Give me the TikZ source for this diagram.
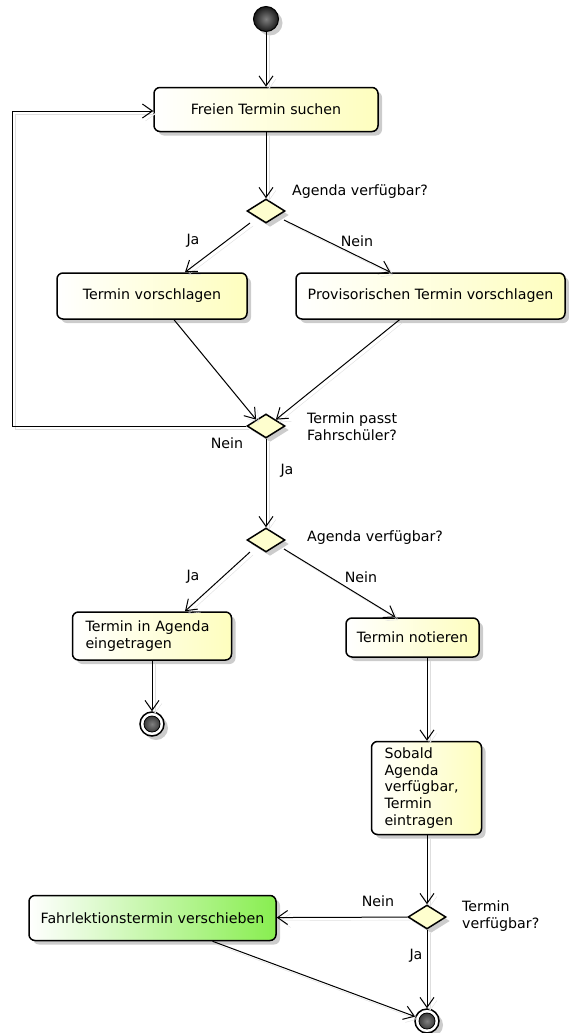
\documentclass[tikz,border=0pt]{standalone}
\usepackage{fontspec}
\setmainfont{DejaVu Sans}
\usetikzlibrary{shapes.geometric,shadows,arrows.meta}
\definecolor{actR}{RGB}{254,254,190}
\definecolor{diaF}{RGB}{254,254,206}
\definecolor{grnR}{RGB}{136,238,80}
\begin{document}
\begin{tikzpicture}[x=1pt,y=-1pt,
  font=\fontsize{14.2}{16.8}\selectfont,
  shd/.style={drop shadow={shadow xshift=4pt,shadow yshift=-4pt,fill=black!20,opacity=1}},
  action/.style={draw, line width=1.5pt, rounded corners=6pt, shd,
    left color=white, right color=actR, inner sep=0pt},
  actionleft/.style={action, align=left, inner xsep=13pt},
  decision/.style={diamond, draw, line width=1.5pt, fill=diaF, shd,
    minimum width=38pt, minimum height=24pt, inner sep=0pt},
  startnode/.style={circle, draw, line width=1pt, minimum size=25pt, inner sep=0pt,
    shd, inner color=black!50, outer color=black!90},
  endnode/.style={circle, draw, line width=1.5pt, minimum size=24pt, inner sep=0pt,
    fill=white, shd,
    path picture={\shade[inner color=black!50, outer color=black!90]
      (path picture bounding box.center) circle (8pt);
      \draw[line width=0.8pt] (path picture bounding box.center) circle (8pt);}},
  flow/.style={draw, line width=1pt,
    -{Straight Barb[length=10pt,width=14pt,line width=1pt]},
    preaction={draw=black!13, transform canvas={xshift=3pt,yshift=-3pt}}},
  lbl/.style={inner sep=0pt}
]
\useasboundingbox (0,0) rectangle (569,1033);

% nodes
\node[startnode] (start) at (266,19) {};
\node[action, minimum width=224pt, minimum height=44pt] (suchen) at (266,109.5) {Freien Termin suchen};
\node[decision] (d1) at (266,211) {};
\node[action, minimum width=190pt, minimum height=46pt] (vorschl) at (152,296) {Termin vorschlagen};
\node[action, minimum width=269pt, minimum height=46pt] (prov) at (430.5,296) {Provisorischen Termin vorschlagen};
\node[decision] (d2) at (266,426) {};
\node[decision] (d3) at (266,540) {};
\node[actionleft, text width=133pt, minimum height=48pt] (eingetr) at (152,636) {Termin in Agenda\\eingetragen};
\node[endnode] (end1) at (152,724) {};
\node[action, minimum width=133pt, minimum height=39pt] (notieren) at (412.5,637.5) {Termin notieren};
\node[actionleft, text width=84pt, minimum height=93pt] (sobald) at (426.5,788) {Sobald\\Agenda\\verfügbar,\\Termin\\eintragen};
\node[decision] (d4) at (427,917) {};
\node[action, minimum width=247pt, minimum height=45pt, right color=grnR] (verschieben) at (152.5,918) {Fahrlektionstermin verschieben};
\node[endnode] (end2) at (427,1021) {};

% labels
\node[lbl, anchor=west] (q1) at (292,192) {Agenda verfügbar?};
\node[lbl] (ja1) at (193,241) {Ja};
\node[lbl] (nein1) at (357,241) {Nein};
\node[lbl, anchor=west, align=left] (q2) at (307,427) {Termin passt\\Fahrschüler?};
\node[lbl] (nein2) at (227,443) {Nein};
\node[lbl] (ja2) at (287,471) {Ja};
\node[lbl, anchor=west] (q3) at (307,538) {Agenda verfügbar?};
\node[lbl] (ja3) at (193,577) {Ja};
\node[lbl] (nein3) at (361,577) {Nein};
\node[lbl] (nein4) at (378,901) {Nein};
\node[lbl, anchor=west, align=left] (q4) at (462,916) {Termin\\verfügbar?};
\node[lbl] (ja4) at (416,956) {Ja};

% loop corners
\coordinate (lpA) at (12,426);
\coordinate (lpB) at (12,111);

% connectors
\draw[flow] (start) -- (suchen);
\draw[flow] (suchen) -- (d1);
\draw[flow] ([shift={(-16pt,-12pt)}]d1.center) -- ([xshift=33pt]vorschl.north);
\draw[flow] ([shift={(18pt,-9pt)}]d1.center) -- ([xshift=-40pt]prov.north);
\draw[flow] ([xshift=22pt]vorschl.south) -- (d2.north west);
\draw[flow] ([xshift=-31pt]prov.south) -- (d2.north east);
\draw[flow] (d2.west) -- (lpA) -- (lpB) -- (suchen.west |- lpB);
\draw[flow] (d2) -- (d3);
\draw[flow] ([shift={(-16pt,-12pt)}]d3.center) -- ([xshift=33pt]eingetr.north);
\draw[flow] ([shift={(18pt,-9pt)}]d3.center) -- ([xshift=-17pt]notieren.north);
\draw[flow] (eingetr) -- (end1);
\draw[flow] (notieren.south -| d4) -- (sobald.north -| d4);
\draw[flow] (sobald.south -| d4) -- (d4);
\draw[flow] (d4) -- (verschieben);
\draw[flow] (d4) -- (end2);
\draw[flow] ([xshift=60pt]verschieben.south) -- (end2);
\end{tikzpicture}
\end{document}
